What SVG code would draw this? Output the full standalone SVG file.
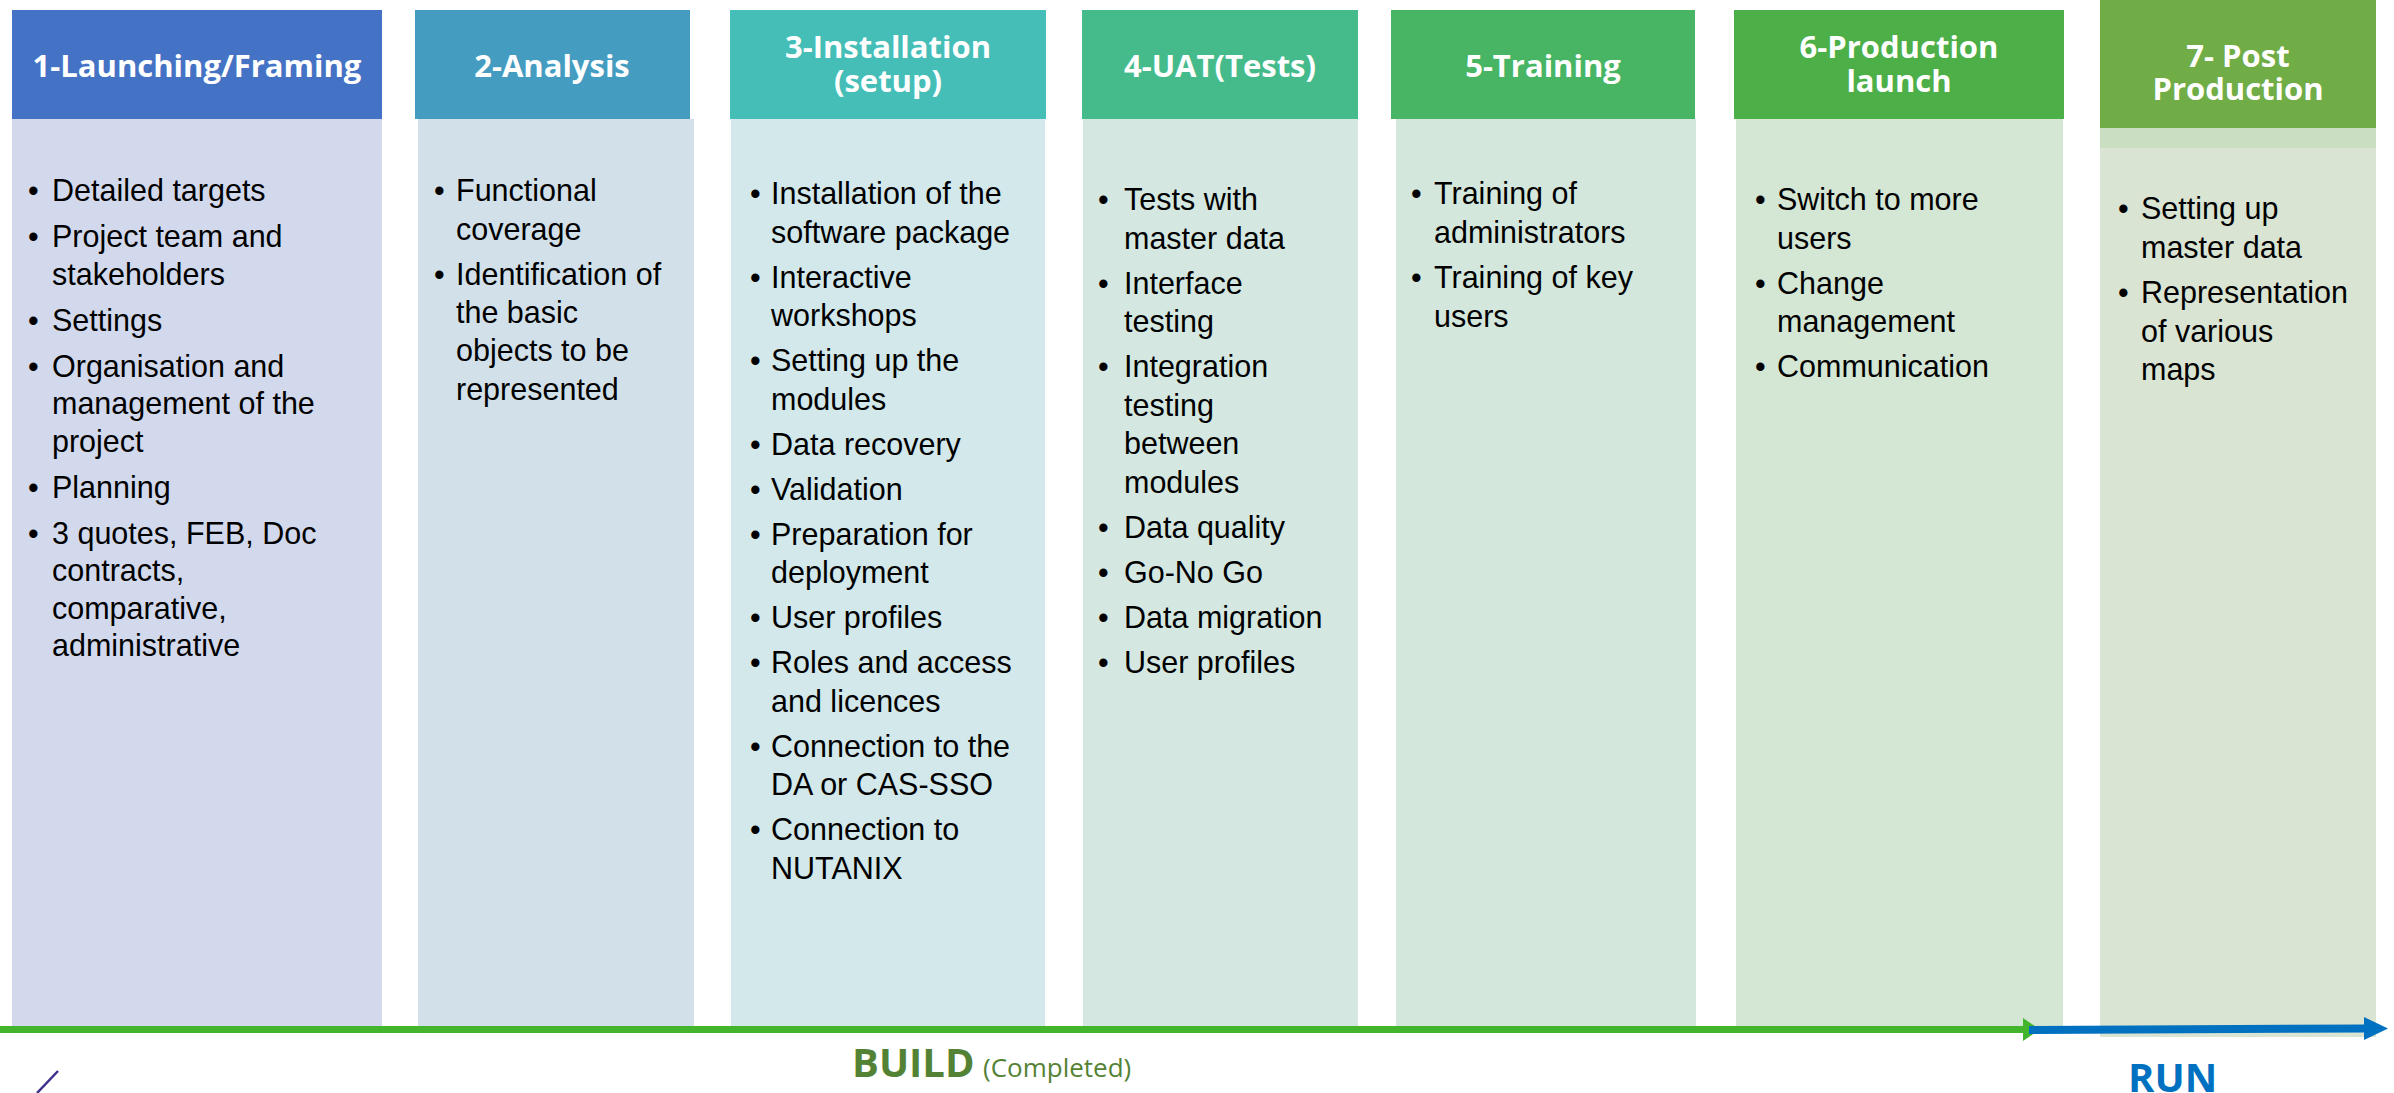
<svg xmlns="http://www.w3.org/2000/svg" width="2394" height="1093" viewBox="0 0 2394 1093">
<style>
.hdr{font-family:"Open Sans","Liberation Sans",sans-serif;font-weight:700;font-size:31px;fill:#ffffff;text-anchor:middle}
.b{font-family:"Liberation Sans",Arial,sans-serif;font-size:30.5px;fill:#000000}
.build{font-family:"Open Sans","Liberation Sans",sans-serif;fill:#548235}
.run{font-family:"Open Sans","Liberation Sans",sans-serif;font-weight:700;font-size:40px;fill:#0070C0}
</style>
<defs>
<marker id="arrGreen" markerUnits="userSpaceOnUse" markerWidth="17" markerHeight="23" refX="0" refY="11.5" orient="auto"><path d="M0,0 L17,11.5 L0,23 z" fill="#43B52C"/></marker>
<marker id="arrBlue" markerUnits="userSpaceOnUse" markerWidth="24" markerHeight="23" refX="0" refY="11.5" orient="auto"><path d="M0,0 L24,11.5 L0,23 z" fill="#0070C0"/></marker>
</defs>
<rect width="2394" height="1093" fill="#ffffff"/>

<g id="col1">
<rect x="12" y="119" width="370" height="911" fill="#D2D9EC"/>
<rect x="12" y="10" width="370" height="109" fill="#4472C4"/>
<text class="hdr" x="197" y="77">1-Launching/Framing</text>
<text class="b" x="28" y="201">•</text><text class="b" x="52" y="201">Detailed targets</text>
<text class="b" x="28" y="247">•</text><text class="b" x="52" y="247">Project team and</text>
<text class="b" x="52" y="284.5">stakeholders</text>
<text class="b" x="28" y="330.5">•</text><text class="b" x="52" y="330.5">Settings</text>
<text class="b" x="28" y="376.5">•</text><text class="b" x="52" y="376.5">Organisation and</text>
<text class="b" x="52" y="414">management of the</text>
<text class="b" x="52" y="451.5">project</text>
<text class="b" x="28" y="497.5">•</text><text class="b" x="52" y="497.5">Planning</text>
<text class="b" x="28" y="543.5">•</text><text class="b" x="52" y="543.5">3 quotes, FEB, Doc</text>
<text class="b" x="52" y="581">contracts,</text>
<text class="b" x="52" y="618.5">comparative,</text>
<text class="b" x="52" y="656">administrative</text>
</g>

<g id="col2">
<rect x="418" y="119" width="276" height="911" fill="#D2E1E9"/>
<rect x="415" y="10" width="275" height="109" fill="#449CC1"/>
<text class="hdr" x="552" y="77">2-Analysis</text>
<text class="b" x="434" y="201">•</text><text class="b" x="456" y="201">Functional</text>
<text class="b" x="456" y="239.5">coverage</text>
<text class="b" x="434" y="285">•</text><text class="b" x="456" y="285">Identification of</text>
<text class="b" x="456" y="323">the basic</text>
<text class="b" x="456" y="361">objects to be</text>
<text class="b" x="456" y="399.5">represented</text>
</g>

<g id="col3">
<rect x="731" y="119" width="314" height="911" fill="#D3E8EA"/>
<rect x="730" y="10" width="316" height="109" fill="#45BEB8"/>
<text class="hdr" x="888" y="58">3-Installation<tspan x="888" y="92">(setup)</tspan></text>
<text class="b" x="750" y="204">•</text><text class="b" x="771" y="204">Installation of the</text>
<text class="b" x="771" y="242.5">software package</text>
<text class="b" x="750" y="287.5">•</text><text class="b" x="771" y="287.5">Interactive</text>
<text class="b" x="771" y="326">workshops</text>
<text class="b" x="750" y="371">•</text><text class="b" x="771" y="371">Setting up the</text>
<text class="b" x="771" y="409.5">modules</text>
<text class="b" x="750" y="454.5">•</text><text class="b" x="771" y="454.5">Data recovery</text>
<text class="b" x="750" y="499.5">•</text><text class="b" x="771" y="499.5">Validation</text>
<text class="b" x="750" y="544.5">•</text><text class="b" x="771" y="544.5">Preparation for</text>
<text class="b" x="771" y="583">deployment</text>
<text class="b" x="750" y="628">•</text><text class="b" x="771" y="628">User profiles</text>
<text class="b" x="750" y="673">•</text><text class="b" x="771" y="673">Roles and access</text>
<text class="b" x="771" y="711.5">and licences</text>
<text class="b" x="750" y="756.5">•</text><text class="b" x="771" y="756.5">Connection to the</text>
<text class="b" x="771" y="795">DA or CAS-SSO</text>
<text class="b" x="750" y="840">•</text><text class="b" x="771" y="840">Connection to</text>
<text class="b" x="771" y="878.5">NUTANIX</text>
</g>

<g id="col4">
<rect x="1083" y="119" width="275" height="911" fill="#D4E8E1"/>
<rect x="1082" y="10" width="276" height="109" fill="#45BB8C"/>
<text class="hdr" x="1220" y="77">4-UAT(Tests)</text>
<text class="b" x="1098" y="210">•</text><text class="b" x="1124" y="210">Tests with</text>
<text class="b" x="1124" y="248.5">master data</text>
<text class="b" x="1098" y="293.5">•</text><text class="b" x="1124" y="293.5">Interface</text>
<text class="b" x="1124" y="332">testing</text>
<text class="b" x="1098" y="377">•</text><text class="b" x="1124" y="377">Integration</text>
<text class="b" x="1124" y="415.5">testing</text>
<text class="b" x="1124" y="454">between</text>
<text class="b" x="1124" y="492.5">modules</text>
<text class="b" x="1098" y="537.5">•</text><text class="b" x="1124" y="537.5">Data quality</text>
<text class="b" x="1098" y="582.5">•</text><text class="b" x="1124" y="582.5">Go-No Go</text>
<text class="b" x="1098" y="627.5">•</text><text class="b" x="1124" y="627.5">Data migration</text>
<text class="b" x="1098" y="672.5">•</text><text class="b" x="1124" y="672.5">User profiles</text>
</g>

<g id="col5">
<rect x="1396" y="119" width="300" height="911" fill="#D4E7DC"/>
<rect x="1391" y="10" width="304" height="109" fill="#47B564"/>
<text class="hdr" x="1543" y="77">5-Training</text>
<text class="b" x="1411" y="204">•</text><text class="b" x="1434" y="204">Training of</text>
<text class="b" x="1434" y="242.5">administrators</text>
<text class="b" x="1411" y="288">•</text><text class="b" x="1434" y="288">Training of key</text>
<text class="b" x="1434" y="326.5">users</text>
</g>

<g id="col6">
<rect x="1736" y="119" width="327" height="911" fill="#D4E6D4"/>
<rect x="1734" y="10" width="330" height="109" fill="#4CAF48"/>
<text class="hdr" x="1899" y="58">6-Production<tspan x="1899" y="92">launch</tspan></text>
<text class="b" x="1755" y="210">•</text><text class="b" x="1777" y="210">Switch to more</text>
<text class="b" x="1777" y="248.5">users</text>
<text class="b" x="1755" y="293.5">•</text><text class="b" x="1777" y="293.5">Change</text>
<text class="b" x="1777" y="332">management</text>
<text class="b" x="1755" y="377">•</text><text class="b" x="1777" y="377">Communication</text>
</g>

<g id="col7">
<rect x="2100" y="148" width="276" height="889" fill="#D9E4D2"/>
<rect x="2100" y="128" width="276" height="20" fill="#CADFC1"/>
<rect x="2100" y="0" width="276" height="128" fill="#70AD47"/>
<text class="hdr" x="2238" y="67">7- Post<tspan x="2238" y="100">Production</tspan></text>
<text class="b" x="2118" y="219">•</text><text class="b" x="2141" y="219">Setting up</text>
<text class="b" x="2141" y="257.5">master data</text>
<text class="b" x="2118" y="303">•</text><text class="b" x="2141" y="303">Representation</text>
<text class="b" x="2141" y="341.5">of various</text>
<text class="b" x="2141" y="380">maps</text>
</g>

<g id="connectors">
<path d="M0,1029.5 L2023,1029.5" stroke="#43B52C" stroke-width="7" fill="none" marker-end="url(#arrGreen)"/>
<path d="M2029,1030 L2364,1028.5" stroke="#0070C0" stroke-width="8" fill="none" marker-end="url(#arrBlue)"/>
</g>

<g id="labels">
<text class="build" x="852" y="1077" font-size="40" font-weight="700">BUILD</text>
<text class="build" x="983" y="1077" font-size="26">(Completed)</text>
<text class="run" x="2128" y="1092">RUN</text>
<line x1="58" y1="1071" x2="37" y2="1093" stroke="#3F2E8C" stroke-width="2.5"/>
</g>
</svg>
